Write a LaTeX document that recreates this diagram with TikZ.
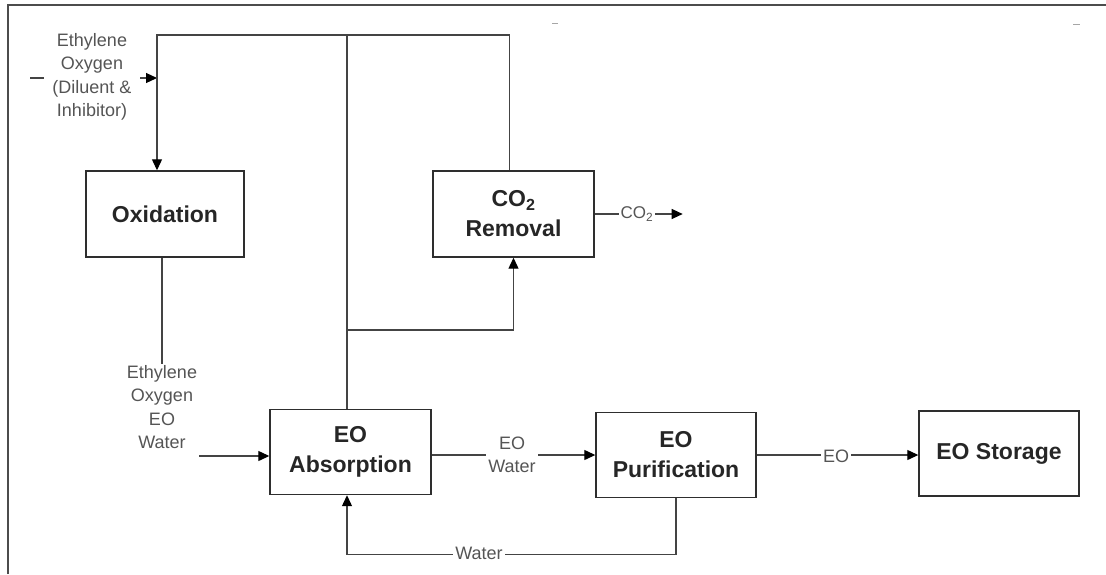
\documentclass[tikz,border=0pt]{standalone}
\usepackage{fontspec}
\setmainfont{Liberation Sans}
\usetikzlibrary{arrows.meta}
\definecolor{linec}{HTML}{444444}
\definecolor{boxc}{HTML}{2E2E2E}
\definecolor{lblc}{HTML}{555555}
\tikzset{
  unitbox/.style={draw=boxc, line width=1.4pt, minimum width=160pt, minimum height=85pt,
    align=center, inner sep=0pt, font=\bfseries\fontsize{23}{30}\selectfont, text=black!85},
  conn/.style={draw=linec, line width=1.2pt},
  arr/.style={conn, -{Triangle[length=11pt,width=10pt,color=black]}},
  flowlbl/.style={align=center, fill=white, inner xsep=2pt, inner ysep=1pt,
    font=\fontsize{18}{23.5}\selectfont, text=lblc},
}
\begin{document}
\begin{tikzpicture}[x=1pt,y=-1pt]
\useasboundingbox (0,0) rectangle (1106,574);
% frame
\draw[line width=1.8pt, black!70] (8,574) -- (8,5) -- (1106,5);
\draw[line width=0.8pt, black!35] (552,23) -- (558,23);
\draw[line width=0.8pt, black!35] (1073,24) -- (1080,24);

% boxes
\node[unitbox, minimum width=158pt, minimum height=86pt] (ox) at (165,214) {Oxidation};
\node[unitbox, minimum width=161pt, minimum height=86pt] (co2) at (513.5,214) {CO\textsubscript{2}\\Removal};
\node[unitbox, minimum width=161pt] (abs) at (350.5,452) {EO\\Absorption};
\node[unitbox] (pur) at (676,455) {EO\\Purification};
\node[unitbox] (sto) at (999,453.5) {EO Storage};

% coordinates
\coordinate (feedin) at (30,78);
\coordinate (jl) at (157,78);
\coordinate (tl) at (157,35);
\coordinate (absup) at (347,35);
\coordinate (br) at (347,330);
\coordinate (oxin) at (199,456);
\coordinate (oxb) at ([xshift=-3pt]ox.south);

% feed
\draw[arr] (feedin) -- (jl);
\node[flowlbl, inner xsep=8pt] (feedlbl) at (92,77) {Ethylene\\Oxygen\\(Diluent \&\\Inhibitor)};

% recycle loop
\draw[arr] ([xshift=-4pt]co2.north) |- (tl) -- (tl |- ox.north);
\draw[conn] ([xshift=-3.5pt]abs.north) -- (absup);
\draw[arr] (br) -| (co2.south);

% CO2 out
\draw[arr] (co2.east) -- ++(88,0);
\node[flowlbl, font=\fontsize{17}{22}\selectfont] (co2lbl) at (637,214) {CO\textsubscript{2}};

% oxidation outlet to absorption
\node[flowlbl] (oxlbl) at (162,407) {Ethylene\\Oxygen\\EO\\Water};
\draw[conn] (oxb) -- (oxb |- oxlbl.north);
\draw[arr] (oxin) -- (oxin -| abs.west);

% absorption to purification
\draw[arr] (abs.east |- pur.west) -- (pur.west);
\node[flowlbl] (eowlbl) at (512,455) {EO\\Water};

% purification to storage
\draw[arr] (pur.east) -- (sto.west |- pur.east);
\node[flowlbl] (eolbl) at (836,456) {EO};

% water recycle
\draw[arr] (pur.south) -- ++(0,56) -| ([xshift=-3.5pt]abs.south);
\node[flowlbl] (wlbl) at (479,553) {Water};
\end{tikzpicture}
\end{document}
